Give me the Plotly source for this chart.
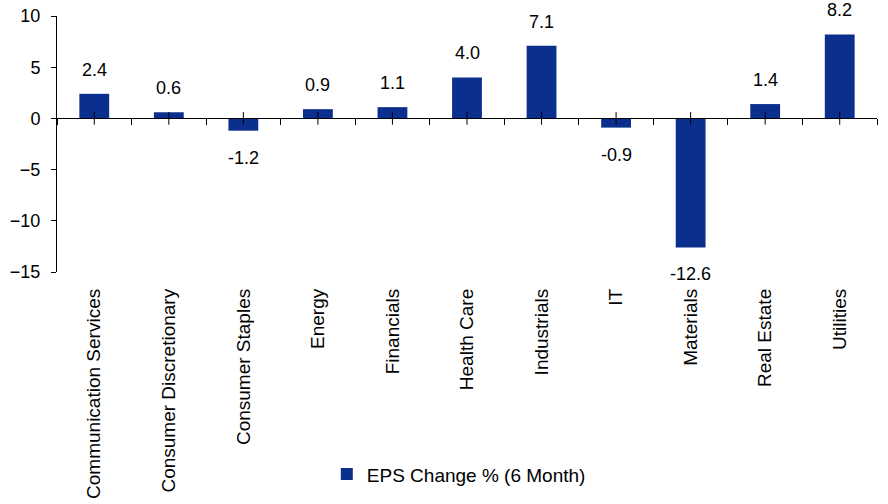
import plotly.graph_objects as go

# Six-month EPS revision by sector
sectors = [
    "Communication Services", "Consumer Discretionary", "Consumer Staples",
    "Energy", "Financials", "Health Care", "Industrials", "IT",
    "Materials", "Real Estate", "Utilities",
]
eps_change = [2.4, 0.6, -1.2, 0.9, 1.1, 4.0, 7.1, -0.9, -12.6, 1.4, 8.2]
series_name = "EPS Change % (6 Month)"

y_ticks = [-15, -10, -5, 0, 5, 10]

BAR_COLOR = "#0b2f8c"
FONT = "Liberation Sans, Arial, sans-serif"
FS = 18

idx = list(range(len(sectors)))
boundaries = [i - 0.5 for i in idx] + [idx[-1] + 0.5]
y_min, y_max = -15, 10
zero_pos = (0 - y_min) / (y_max - y_min)

fig = go.Figure()

fig.add_trace(go.Bar(
    x=idx, y=eps_change, name=series_name,
    marker=dict(color=BAR_COLOR, line=dict(width=0)),
    width=0.4,
))

# cross tick marks on the zero line at each category centre
fig.add_trace(go.Scatter(
    x=idx, y=[0] * len(idx), mode="markers", showlegend=False,
    hoverinfo="skip",
    marker=dict(symbol="line-ns-open", size=9, color="black",
                line=dict(color="black", width=1)),
))

# value labels
for i, v in zip(idx, eps_change):
    fig.add_annotation(
        x=i, y=v, text=f"{v:.1f}", showarrow=False,
        yanchor="bottom" if v >= 0 else "top",
        yshift=12 if v >= 0 else -15,
        font=dict(family=FONT, size=FS, color="black"),
    )

fig.update_layout(
    width=888, height=504,
    margin=dict(l=57, r=11, t=16, b=232, autoexpand=False),
    paper_bgcolor="white", plot_bgcolor="white",
    font=dict(family=FONT, size=FS, color="black"),
    bargap=0.6,
    showlegend=True,
    legend=dict(
        orientation="h", x=0.49, xanchor="center", y=-0.79, yanchor="middle",
        font=dict(family=FONT, size=19, color="black"),
        itemwidth=30, bgcolor="rgba(0,0,0,0)",
    ),
    xaxis=dict(
        range=[-0.5, len(idx) - 0.5], automargin=False,
        tickmode="array", tickvals=idx, ticktext=sectors,
        tickangle=-90, ticks="", showline=False, showgrid=False,
        zeroline=False, ticklabelstandoff=12,
        tickfont=dict(family=FONT, size=19, color="black"),
    ),
    xaxis2=dict(
        overlaying="x", matches="x", anchor="free", position=zero_pos,
        side="bottom", automargin=False,
        tickmode="array", tickvals=boundaries, showticklabels=False,
        ticks="outside", ticklen=6, tickcolor="black", tickwidth=1,
        showline=True, linecolor="black", linewidth=1,
        showgrid=False, zeroline=False,
    ),
    yaxis=dict(
        range=[y_min, y_max], tickmode="array", tickvals=y_ticks,
        automargin=False,
        ticks="outside", ticklen=5, tickcolor="black", tickwidth=1,
        showline=True, linecolor="black", linewidth=1,
        showgrid=False, zeroline=False, ticklabelstandoff=7,
        tickfont=dict(family=FONT, size=FS, color="black"),
    ),
)

# give the zero-line axis something to draw against
fig.add_trace(go.Scatter(x=[idx[0]], y=[0], xaxis="x2", mode="markers",
                         marker=dict(opacity=0), showlegend=False,
                         hoverinfo="skip"))

fig.write_html("out.html")
